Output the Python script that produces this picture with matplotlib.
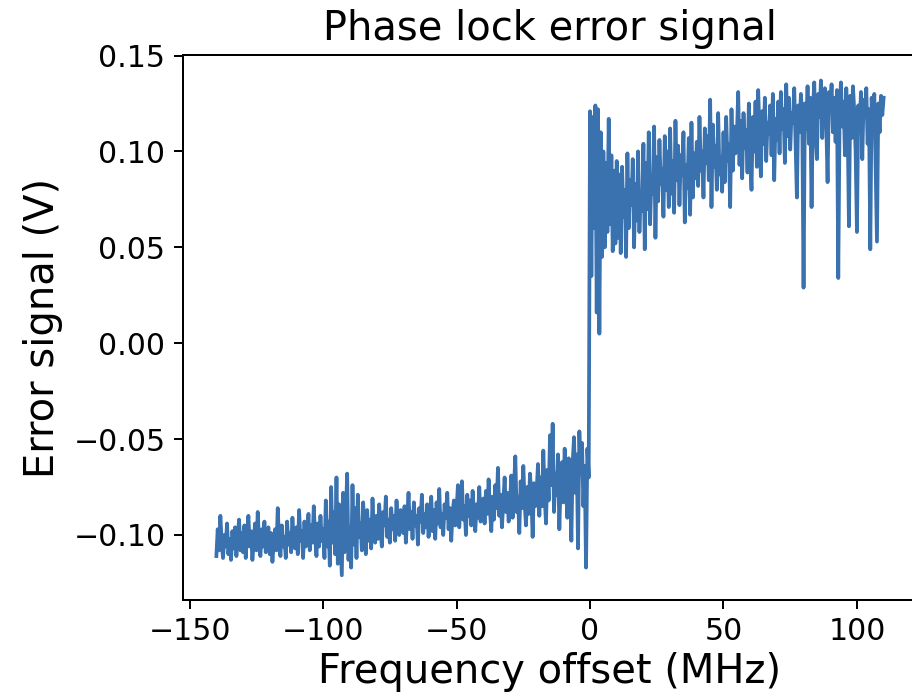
import numpy as np
import matplotlib
matplotlib.use("Agg")
import matplotlib.pyplot as plt

# Frequency offsets (MHz), 0.5 MHz sampling
freq_neg = np.arange(-140.0, 0.0, 0.5)
freq_pos = np.arange(0.0, 110.5, 0.5)

# Error signal (V) below the lock point
err_neg = [
    -0.111, -0.097, -0.108, -0.090, -0.104, -0.112, -0.100, -0.106, -0.094, -0.110, -0.102, -0.113, -0.098, -0.107, -0.096, -0.111, -0.101, -0.092, -0.108, -0.099,
    -0.109, -0.095, -0.112, -0.100, -0.090, -0.106, -0.098, -0.113, -0.103, -0.094, -0.108, -0.088, -0.104, -0.111, -0.097, -0.106, -0.093, -0.109, -0.101, -0.096,
    -0.110, -0.099, -0.114, -0.104, -0.097, -0.108, -0.086, -0.103, -0.111, -0.095, -0.106, -0.101, -0.112, -0.093, -0.105, -0.099, -0.109, -0.091, -0.104, -0.107,
    -0.096, -0.110, -0.087, -0.103, -0.098, -0.112, -0.093, -0.106, -0.100, -0.089, -0.108, -0.095, -0.104, -0.085, -0.101, -0.111, -0.094, -0.106, -0.090, -0.103,
    -0.097, -0.112, -0.082, -0.106, -0.093, -0.116, -0.075, -0.104, -0.088, -0.110, -0.070, -0.115, -0.084, -0.102, -0.121, -0.078, -0.109, -0.091, -0.068, -0.113,
    -0.096, -0.117, -0.074, -0.105, -0.086, -0.112, -0.079, -0.101, -0.094, -0.108, -0.083, -0.099, -0.110, -0.087, -0.103, -0.092, -0.107, -0.081, -0.098, -0.104,
    -0.090, -0.102, -0.084, -0.098, -0.106, -0.088, -0.095, -0.080, -0.101, -0.092, -0.104, -0.086, -0.097, -0.090, -0.103, -0.082, -0.096, -0.100, -0.087, -0.094,
    -0.099, -0.085, -0.104, -0.091, -0.078, -0.097, -0.088, -0.102, -0.083, -0.095, -0.090, -0.105, -0.086, -0.093, -0.079, -0.099, -0.089, -0.096, -0.084, -0.101,
    -0.092, -0.080, -0.098, -0.087, -0.102, -0.083, -0.094, -0.076, -0.096, -0.089, -0.100, -0.084, -0.091, -0.078, -0.097, -0.086, -0.103, -0.088, -0.082, -0.095,
    -0.087, -0.074, -0.096, -0.083, -0.072, -0.092, -0.085, -0.100, -0.079, -0.090, -0.082, -0.095, -0.077, -0.088, -0.098, -0.084, -0.091, -0.075, -0.093, -0.086,
    -0.081, -0.094, -0.077, -0.089, -0.071, -0.087, -0.098, -0.080, -0.092, -0.074, -0.086, -0.065, -0.090, -0.079, -0.096, -0.083, -0.070, -0.088, -0.078, -0.093,
    -0.084, -0.069, -0.091, -0.076, -0.059, -0.088, -0.080, -0.099, -0.072, -0.086, -0.064, -0.083, -0.095, -0.075, -0.089, -0.068, -0.079, -0.101, -0.073, -0.085,
    -0.077, -0.063, -0.090, -0.070, -0.085, -0.056, -0.080, -0.094, -0.066, -0.082, -0.048, -0.074, -0.042, -0.088, -0.068, -0.079, -0.058, -0.097, -0.072, -0.062,
    -0.083, -0.055, -0.075, -0.091, -0.060, -0.070, -0.103, -0.062, -0.049, -0.078, -0.058, -0.107, -0.046, -0.068, -0.052, -0.085, -0.064, -0.117, -0.055, -0.070,
]

# Error signal (V) above the lock point
err_pos = [
    0.121, 0.035, 0.118, 0.060, 0.124, 0.016, 0.122, 0.005, 0.110, 0.045, 0.100, 0.050, 0.094, 0.058, 0.117, 0.062, 0.098, 0.048, 0.090, 0.052,
    0.095, 0.055, 0.088, 0.047, 0.092, 0.066, 0.080, 0.045, 0.099, 0.060, 0.085, 0.072, 0.096, 0.050, 0.083, 0.064, 0.100, 0.058, 0.078, 0.069,
    0.104, 0.049, 0.094, 0.070, 0.110, 0.062, 0.087, 0.078, 0.113, 0.055, 0.097, 0.074, 0.106, 0.083, 0.091, 0.066, 0.108, 0.080, 0.100, 0.071,
    0.112, 0.078, 0.095, 0.068, 0.116, 0.085, 0.103, 0.072, 0.098, 0.088, 0.110, 0.063, 0.093, 0.081, 0.107, 0.067, 0.115, 0.076, 0.099, 0.086,
    0.105, 0.082, 0.118, 0.090, 0.100, 0.076, 0.112, 0.094, 0.108, 0.085, 0.127, 0.071, 0.114, 0.092, 0.103, 0.080, 0.120, 0.088, 0.097, 0.079,
    0.110, 0.084, 0.118, 0.095, 0.104, 0.071, 0.122, 0.090, 0.113, 0.099, 0.107, 0.131, 0.093, 0.116, 0.086, 0.120, 0.102, 0.111, 0.089, 0.125,
    0.097, 0.080, 0.118, 0.100, 0.126, 0.092, 0.132, 0.110, 0.087, 0.121, 0.104, 0.128, 0.095, 0.115, 0.109, 0.124, 0.098, 0.130, 0.085, 0.117,
    0.106, 0.126, 0.099, 0.131, 0.112, 0.122, 0.094, 0.135, 0.108, 0.128, 0.101, 0.120, 0.115, 0.133, 0.104, 0.076, 0.124, 0.110, 0.130, 0.118,
    0.029, 0.125, 0.112, 0.134, 0.104, 0.128, 0.071, 0.121, 0.136, 0.109, 0.096, 0.130, 0.118, 0.137, 0.107, 0.127, 0.133, 0.115, 0.084, 0.131,
    0.122, 0.135, 0.110, 0.128, 0.105, 0.132, 0.034, 0.119, 0.136, 0.113, 0.126, 0.098, 0.133, 0.117, 0.061, 0.129, 0.107, 0.134, 0.121, 0.100,
    0.058, 0.124, 0.112, 0.131, 0.096, 0.127, 0.118, 0.133, 0.104, 0.122, 0.049, 0.128, 0.115, 0.130, 0.092, 0.053, 0.125, 0.110, 0.129, 0.119, 0.128,
]

title = "Phase lock error signal"
xlabel = "Frequency offset (MHz)"
ylabel = "Error signal (V)"

freq = np.concatenate([freq_neg, freq_pos])
err = np.concatenate([np.array(err_neg), np.array(err_pos)])

DPI = 180
fig = plt.figure(figsize=(912 / DPI, 692 / DPI), dpi=DPI)
ax = fig.add_axes([183 / 912, (692 - 600) / 692, (917 - 183) / 912, (600 - 55) / 692])
ax.plot(freq, err, color="#3a72b0", linewidth=1.5)
ax.set_title(title, fontsize=16)
ax.set_xlabel(xlabel, fontsize=16, labelpad=2)
ax.set_ylabel(ylabel, fontsize=16)
ax.tick_params(labelsize=12)
ax.set_xticks([-150, -100, -50, 0, 50, 100])
ax.set_yticks([-0.10, -0.05, 0.00, 0.05, 0.10, 0.15])
ax.set_xlim(-152.5, 122.5)
ax.set_ylim(-0.1339, 0.1503)

fig.savefig("out.png", dpi=DPI)
